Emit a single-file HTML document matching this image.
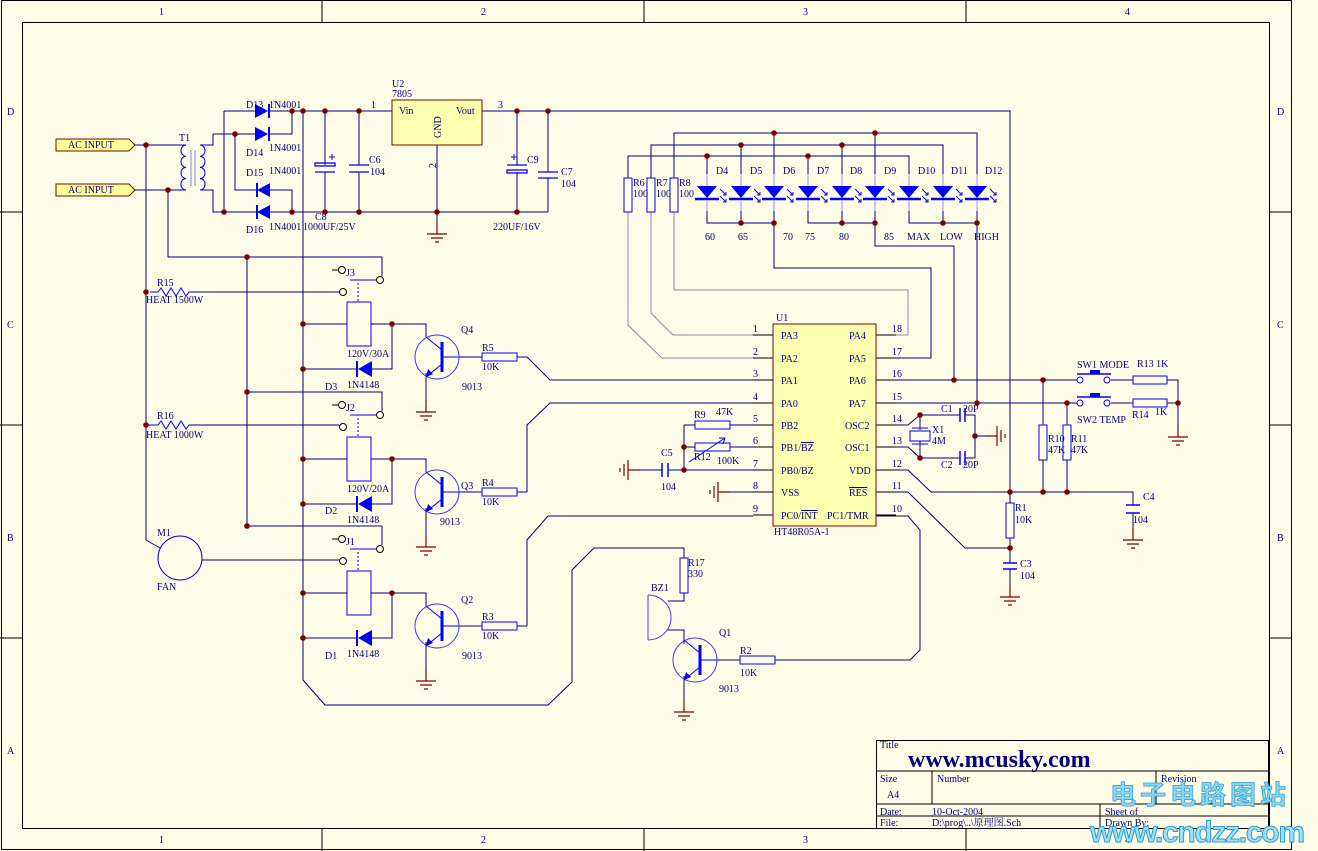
<!DOCTYPE html>
<html><head><meta charset="utf-8"><style>
html,body{margin:0;padding:0;background:#FFFDE8;}
svg{display:block;}
text{font-family:"Liberation Serif","Noto Serif CJK SC",serif;font-size:10px;fill:#000080;}
</style></head><body>
<svg width="1318" height="851" viewBox="0 0 1318 851" xmlns="http://www.w3.org/2000/svg">
<defs>
<g id="gnd" stroke="#800000" stroke-width="1.2" fill="none"><path d="M0,0V12M-10,12H10M-6,16H6M-2,20H2"/></g>
<g id="npn" fill="none"><circle r="22" stroke="#4040ff" stroke-width="1"/><path d="M5,-15V15" stroke="#0000ff" stroke-width="3"/><path d="M5,-7L-11,-20M5,7L-11,20" stroke="#0000ff" stroke-width="1"/><path d="M-11,20L-9,12L-4,17Z" fill="#0000ff"/><path d="M5,0H22" stroke="#0000ff"/></g>
<g id="led"><path d="M-10,0H10L0,12Z" fill="#0000ff"/><path d="M-12,13H12" stroke="#0000ff" stroke-width="2.5"/><path d="M0,-12V0M0,14V25" stroke="#9090ff"/><g stroke="#0000ff" fill="none"><path d="M13,3L19,9M16,9H19V6M13,10L19,16M16,16H19V13"/></g></g>
<g id="relay">
<path d="M247,257H382V276" stroke="#000080" fill="none"/>
<circle cx="342" cy="270" r="3.5" fill="none" stroke="#000"/><path d="M332,270H338" stroke="#000"/>
<path d="M350,280H376" stroke="#0000ff"/><circle cx="380" cy="280" r="3.5" fill="none" stroke="#000"/>
<circle cx="343" cy="292" r="3.5" fill="none" stroke="#000"/>
<path d="M358,283V302" stroke="#0000ff" stroke-dasharray="2,2"/>
<rect x="347" y="302" width="24" height="44" fill="none" stroke="#0000ff"/>
<path d="M303,324H347M371,324H426V337M303,369H356M372,369H392V324M442,357H482M517,357H527M426,373V400" stroke="#000080" fill="none"/>
<path d="M372,361V377L358,369Z" fill="#0000ff"/><path d="M357,361V377" stroke="#0000ff" stroke-width="2"/>
<rect x="482" y="353" width="35" height="8" fill="none" stroke="#0000ff"/>
<use href="#npn" x="437" y="357"/>
<use href="#gnd" x="426" y="400"/>
<circle cx="247" cy="257" r="2.8" fill="#800000"/><circle cx="303" cy="324" r="2.8" fill="#800000"/><circle cx="392" cy="324" r="2.8" fill="#800000"/><circle cx="303" cy="369" r="2.8" fill="#800000"/>
</g>
</defs>
<!-- frame -->
<g stroke="#000" fill="none" stroke-width="1">
<rect x="1.5" y="0.5" width="1290" height="849"/>
<rect x="22.5" y="22.5" width="1247" height="806"/>
<path d="M322,0V22M644,0V22M966,0V22M322,828V851M644,828V851M966,828V851M0,212H22M0,425H22M0,638H22M1269,212H1292M1269,425H1292M1269,638H1292"/>
</g>
<g font-size="10"><text x="159" y="15">1</text><text x="481" y="15">2</text><text x="803" y="15">3</text><text x="1125" y="15">4</text>
<text x="159" y="843">1</text><text x="481" y="843">2</text><text x="803" y="843">3</text><text x="1125" y="843">4</text>
<text x="7" y="115">D</text><text x="7" y="328">C</text><text x="7" y="541">B</text><text x="7" y="754">A</text>
<text x="1277" y="115">D</text><text x="1277" y="328">C</text><text x="1277" y="541">B</text><text x="1277" y="754">A</text></g>

<!-- AC inputs -->
<g fill="#FFFF99" stroke="#800000"><path d="M56,139H129L135,145L129,151H56Z"/><path d="M56,184H129L135,190L129,196H56Z"/></g>
<text x="68" y="148">AC  INPUT</text><text x="68" y="193">AC  INPUT</text>

<g stroke="#000080" fill="none" stroke-width="1">
<path d="M135,145H180M135,190H180M146,145V540L160,548M168,190V257H247"/>
<path d="M190,292H339M202,560H339"/>
<path d="M150,292H158L161,288L166,296L171,288L176,296L181,288L186,296L189,292H190" stroke="#0000ff"/>
<path d="M150,425H158L161,421L166,429L171,421L176,429L181,421L186,429L189,425H190" stroke="#0000ff"/>
<path d="M190,425H339M146,425H150"/>
<path d="M247,257V525"/>
<path d="M207,145H213V134H255M207,190H213V212H257M224,111V212M235,134V190H257M224,111H255M270,111H392M292,111V134H270M270,190H292V212M270,212H548M303,111V680L325,705H548L572,682V570L594,548H684V558"/>
<path d="M437,145V222M517,111V165M517,172V212M548,111V172M548,178V212M325,111V165M325,172V212M359,111V165M359,172V212"/>
<path d="M482,111H1010V492"/>
</g>
<!-- transformer coils -->
<g stroke="#0000ff" fill="none">
<path d="M186,145A5,5.6 0 0 0 186,156.2A5,5.6 0 0 0 186,167.4A5,5.6 0 0 0 186,178.6A5,5.6 0 0 0 186,190"/>
<path d="M200,145A5,5.6 0 0 1 200,156.2A5,5.6 0 0 1 200,167.4A5,5.6 0 0 1 200,178.6A5,5.6 0 0 1 200,190"/>
<path d="M191,150V186M195,150V186" stroke="#8080ff"/>
<path d="M180,145H186M180,190H186M200,145H207M200,190H207"/>
</g>
<text x="179" y="141">T1</text>
<g fill="#0000ff"><path d="M255,104V118L268,111Z"/><path d="M255,127V141L268,134Z"/><path d="M270,183V197L257,190Z"/><path d="M270,205V219L257,212Z"/></g>
<g stroke="#0000ff" stroke-width="2"><path d="M269,104V118M269,127V141M257,183V197M257,205V219"/></g>
<text x="246" y="108">D13</text><text x="269" y="108">1N4001</text><text x="246" y="156">D14</text><text x="269" y="151">1N4001</text>
<text x="246" y="176">D15</text><text x="269" y="174">1N4001</text><text x="246" y="233">D16</text><text x="269" y="230">1N4001</text>
<g stroke="#0000ff" fill="none" stroke-width="1.3">
<rect x="315" y="163" width="20" height="3"/><path d="M315,172H335M349,165H369M349,172H369M507,165H527" /><rect x="507" y="170" width="20" height="3"/><path d="M538,172H558M538,178H558"/>
<path d="M329,157H335M332,154V160M511,157H517M514,154V160" stroke-width="1"/>
</g>
<text x="369" y="163">C6</text><text x="370" y="175">104</text><text x="315" y="220">C8</text><text x="303" y="230">1000UF/25V</text>
<text x="527" y="163">C9</text><text x="493" y="230">220UF/16V</text><text x="561" y="175">C7</text><text x="561" y="187">104</text>
<rect x="392" y="100" width="90" height="45" fill="#FFFFB0" stroke="#800000"/>
<text x="399" y="114">Vin</text><text x="456" y="114">Vout</text>
<text transform="translate(441,138) rotate(-90)">GND</text>
<text x="392" y="87">U2</text><text x="392" y="97">7805</text><text x="371" y="108">1</text><text x="498" y="108">3</text>
<text transform="translate(436,168) rotate(-90)">2</text>
<use href="#gnd" x="437" y="222"/>
<g fill="#800000"><circle cx="146" cy="145" r="2.8"/><circle cx="168" cy="190" r="2.8"/><circle cx="146" cy="292" r="2.8"/><circle cx="146" cy="425" r="2.8"/>
<circle cx="292" cy="111" r="2.8"/><circle cx="303" cy="111" r="2.8"/><circle cx="325" cy="111" r="2.8"/><circle cx="359" cy="111" r="2.8"/><circle cx="235" cy="134" r="2.8"/>
<circle cx="224" cy="212" r="2.8"/><circle cx="292" cy="212" r="2.8"/><circle cx="325" cy="212" r="2.8"/><circle cx="359" cy="212" r="2.8"/><circle cx="437" cy="212" r="2.8"/><circle cx="517" cy="212" r="2.8"/>
<circle cx="517" cy="111" r="2.8"/><circle cx="548" cy="111" r="2.8"/></g>
<text x="157" y="286">R15</text><text x="146" y="303">HEAT  1500W</text><text x="157" y="419">R16</text><text x="146" y="438">HEAT  1000W</text>
<circle cx="180" cy="558" r="22" fill="none" stroke="#0000ff"/>
<text x="157" y="536">M1</text><text x="157" y="590">FAN</text>

<use href="#relay"/>
<use href="#relay" y="135"/>
<use href="#relay" y="269"/>
<text x="346" y="276">J3</text><text x="346" y="411">J2</text><text x="346" y="545">J1</text>
<text x="347" y="357">120V/30A</text><text x="347" y="388">1N4148</text><text x="325" y="390">D3</text>
<text x="347" y="492">120V/20A</text><text x="347" y="523">1N4148</text><text x="325" y="514">D2</text>
<text x="347" y="657">1N4148</text><text x="325" y="659">D1</text>
<text x="461" y="333">Q4</text><text x="462" y="390">9013</text><text x="482" y="351">R5</text><text x="482" y="370">10K</text>
<text x="461" y="489">Q3</text><text x="440" y="525">9013</text><text x="482" y="486">R4</text><text x="482" y="505">10K</text>
<text x="461" y="603">Q2</text><text x="462" y="659">9013</text><text x="482" y="620">R3</text><text x="482" y="639">10K</text>

<g stroke="#000080" fill="none">
<path d="M527,357L550,380H753M527,492V425L550,403H753M527,626V540L548,516H753"/>
<path d="M684,593V601H668M668,630H684V644M684,676V700M717,660H740M775,660H910L920,650V530L908,516H876"/>
</g>
<rect x="680" y="558" width="8" height="35" fill="none" stroke="#0000ff"/>
<path d="M648,595V640M648,595A23,22.5 0 0 1 648,640" fill="none" stroke="#4040ff"/>
<use href="#npn" x="695" y="660"/>
<rect x="740" y="656" width="35" height="8" fill="none" stroke="#0000ff"/>
<use href="#gnd" x="684" y="700"/>
<text x="688" y="566">R17</text><text x="688" y="577">330</text><text x="651" y="591">BZ1</text><text x="719" y="636">Q1</text>
<text x="740" y="654">R2</text><text x="740" y="676">10K</text><text x="719" y="692">9013</text>

<g stroke="#000080" fill="none">
<path d="M674,178V133H977V174M651,178V145H943V174M628,178V156H909V174"/>
<path d="M707,174V156M741,174V145M774,174V133M808,174V156M842,174V145M875,174V133"/>
<path d="M707,199V223H774M808,199V223H875M909,199V223H977M741,199V223M774,199V268H931V358H876M842,199V223M875,199V246H954V380M943,199V223M977,199V403"/>
<path d="M628,212V325L662,358H753M651,212V313L673,335H753" stroke="#8888aa"/>
<path d="M674,212V290H908V335H876" stroke="#8888aa"/>
</g>
<g fill="none" stroke="#0000ff"><rect x="624" y="178" width="8" height="34"/><rect x="647" y="178" width="8" height="34"/><rect x="670" y="178" width="8" height="34"/></g>
<text x="633" y="186">R6</text><text x="633" y="197">100</text><text x="656" y="186">R7</text><text x="656" y="197">100</text><text x="679" y="186">R8</text><text x="679" y="197">100</text>
<use href="#led" x="707" y="186"/><use href="#led" x="741" y="186"/><use href="#led" x="774" y="186"/><use href="#led" x="808" y="186"/><use href="#led" x="842" y="186"/><use href="#led" x="875" y="186"/><use href="#led" x="909" y="186"/><use href="#led" x="943" y="186"/><use href="#led" x="977" y="186"/>
<text x="716" y="174">D4</text><text x="750" y="174">D5</text><text x="783" y="174">D6</text><text x="817" y="174">D7</text><text x="850" y="174">D8</text><text x="884" y="174">D9</text><text x="918" y="174">D10</text><text x="951" y="174">D11</text><text x="985" y="174">D12</text>
<text x="705" y="240">60</text><text x="738" y="240">65</text><text x="783" y="240">70</text><text x="805" y="240">75</text><text x="839" y="240">80</text><text x="884" y="240">85</text><text x="907" y="240">MAX</text><text x="940" y="240">LOW</text><text x="974" y="240">HIGH</text>
<g fill="#800000"><circle cx="774" cy="133" r="2.8"/><circle cx="875" cy="133" r="2.8"/><circle cx="741" cy="145" r="2.8"/><circle cx="842" cy="145" r="2.8"/><circle cx="707" cy="156" r="2.8"/><circle cx="808" cy="156" r="2.8"/>
<circle cx="741" cy="223" r="2.8"/><circle cx="774" cy="223" r="2.8"/><circle cx="842" cy="223" r="2.8"/><circle cx="875" cy="223" r="2.8"/><circle cx="943" cy="223" r="2.8"/><circle cx="977" cy="223" r="2.8"/></g>

<g stroke="#000" fill="none"><path d="M753,335H773M753,358H773M753,380H773M753,403H773M753,425H773M753,447H773M753,470H773M753,492H773M753,515H773M876,335H896M876,358H896M876,380H896M876,403H896M876,425H896M876,447H896M876,470H896M876,492H896M876,515H896"/></g>
<rect x="773" y="324" width="103" height="202" fill="#FFFFB0" stroke="#800000"/>
<text x="776" y="321">U1</text><text x="774" y="535">HT48R05A-1</text>
<g><text x="753" y="332">1</text><text x="753" y="355">2</text><text x="753" y="377">3</text><text x="753" y="400">4</text><text x="753" y="422">5</text><text x="753" y="444">6</text><text x="753" y="467">7</text><text x="753" y="489">8</text><text x="753" y="512">9</text>
<text x="892" y="332">18</text><text x="892" y="355">17</text><text x="892" y="377">16</text><text x="892" y="400">15</text><text x="892" y="422">14</text><text x="892" y="444">13</text><text x="892" y="467">12</text><text x="892" y="489">11</text><text x="892" y="512">10</text></g>
<g><text x="781" y="339">PA3</text><text x="781" y="362">PA2</text><text x="781" y="384">PA1</text><text x="781" y="407">PA0</text><text x="781" y="429">PB2</text><text x="781" y="451">PB1/<tspan text-decoration="overline">BZ</tspan></text><text x="781" y="474">PB0/BZ</text><text x="781" y="496">VSS</text><text x="781" y="519">PC0/<tspan text-decoration="overline">INT</tspan></text>
<text x="849" y="339">PA4</text><text x="849" y="362">PA5</text><text x="849" y="384">PA6</text><text x="849" y="407">PA7</text><text x="845" y="429">OSC2</text><text x="845" y="451">OSC1</text><text x="849" y="474">VDD</text><text x="849" y="496" text-decoration="overline">RES</text><text x="827" y="519">PC1/TMR</text></g>

<g stroke="#000080" fill="none">
<path d="M730,425H753M730,447H753M684,425H695M684,447H695M684,425V470M668,470H753M640,470H662M730,492H753"/>
<path d="M896,425H908L920,415H960M965,415H975V458H965M896,447H908L920,458H960M920,415V430M920,441V458M975,436H985"/>
<path d="M896,470H908L931,492H1133V505M1133,513V540M896,492H908L965,548H1010V563M1010,569V596M1010,492V503M1010,538V548"/>
<path d="M896,380H1077M1111,380H1133M1167,380H1178V437M896,403H1077M1111,403H1133M1167,403H1178"/>
<path d="M1043,380V425M1043,460V492M1067,403V425M1067,460V492"/>
</g>
<g stroke="#0000ff" fill="none">
<rect x="695" y="421" width="35" height="8"/><rect x="695" y="443" width="35" height="8"/><path d="M689,462L725,438M725,438L719,438M725,438L723,444"/>
<path d="M662,463V477M668,463V477" stroke-width="1.5"/>
<path d="M960,408V422M965,408V422M960,451V465M965,451V465" stroke-width="1.5"/>
<rect x="910" y="431" width="20" height="10"/><path d="M912,428H928M912,444H928"/>
<path d="M1126,505H1140M1126,513H1140M1003,563H1017M1003,569H1017" stroke-width="1.5"/>
<rect x="1006" y="503" width="8" height="35"/><rect x="1039" y="425" width="8" height="35"/><rect x="1063" y="425" width="8" height="35"/>
<rect x="1133" y="376" width="34" height="8"/><rect x="1133" y="399" width="34" height="8"/>
<circle cx="1080" cy="380" r="3"/><circle cx="1107" cy="380" r="3"/><circle cx="1080" cy="403" r="3"/><circle cx="1107" cy="403" r="3"/>
<path d="M1077,374H1111M1077,397H1111" stroke-width="1.5"/>
</g>
<g fill="#0000ff"><rect x="1090" y="370" width="10" height="4"/><rect x="1090" y="393" width="10" height="4"/></g>
<use href="#gnd" transform="translate(640,470) rotate(90)"/>
<use href="#gnd" transform="translate(730,492) rotate(90)"/>
<use href="#gnd" transform="translate(985,436) rotate(-90)"/>
<use href="#gnd" x="1133" y="528"/><use href="#gnd" x="1010" y="585"/><use href="#gnd" x="1178" y="425"/>
<g fill="#800000"><circle cx="684" cy="447" r="2.8"/><circle cx="684" cy="470" r="2.8"/><circle cx="920" cy="415" r="2.8"/><circle cx="920" cy="458" r="2.8"/><circle cx="975" cy="436" r="2.8"/>
<circle cx="954" cy="380" r="2.8"/><circle cx="977" cy="403" r="2.8"/><circle cx="1043" cy="380" r="2.8"/><circle cx="1067" cy="403" r="2.8"/><circle cx="1178" cy="403" r="2.8"/>
<circle cx="1010" cy="492" r="2.8"/><circle cx="1043" cy="492" r="2.8"/><circle cx="1067" cy="492" r="2.8"/><circle cx="1010" cy="548" r="2.8"/></g>
<text x="694" y="418">R9</text><text x="716" y="415">47K</text><text x="694" y="460">R12</text><text x="717" y="464">100K</text><text x="661" y="456">C5</text><text x="661" y="490">104</text>
<text x="941" y="412">C1</text><text x="963" y="412">20P</text><text x="932" y="433">X1</text><text x="932" y="444">4M</text><text x="941" y="468">C2</text><text x="963" y="468">20P</text>
<text x="1077" y="368">SW1 MODE</text><text x="1137" y="367">R13  1K</text><text x="1077" y="423">SW2 TEMP</text><text x="1132" y="418">R14</text><text x="1155" y="415">1K</text>
<text x="1048" y="442">R10</text><text x="1048" y="453">47K</text><text x="1071" y="442">R11</text><text x="1071" y="453">47K</text>
<text x="1015" y="511">R1</text><text x="1015" y="523">10K</text><text x="1020" y="567">C3</text><text x="1020" y="579">104</text><text x="1143" y="500">C4</text><text x="1133" y="523">104</text>

<g stroke="#000" fill="none"><rect x="876.5" y="740.5" width="392" height="88"/><path d="M876,771H1269M876,804H1269M876,816H1269M932,771V804M1156,771V804M1100,804V828"/></g>
<text x="880" y="748" font-size="9" fill="#000">Title</text>
<text x="908" y="767" style="font-size:24px;font-weight:bold;fill:#000080">www.mcusky.com</text>
<text x="880" y="782" font-size="9" fill="#000">Size</text><text x="887" y="798">A4</text><text x="937" y="782" font-size="9" fill="#000">Number</text><text x="1161" y="782" font-size="9">Revision</text>
<text x="880" y="815" font-size="9">Date:</text><text x="932" y="815" font-size="9">10-Oct-2004</text><text x="1105" y="815" font-size="9">Sheet    of</text>
<text x="880" y="826" font-size="9">File:</text><text x="932" y="826" font-size="9">D:\prog\..\原理图.Sch</text><text x="1105" y="826" font-size="9">Drawn By:</text>
<text x="1110" y="804" textLength="176" style="font-family:'Noto Sans CJK SC',sans-serif;font-size:26px;font-weight:bold;fill:#88d8f0;stroke:#40a0d0;stroke-width:0.8">电子电路图站</text>
<text x="1090" y="842" textLength="215" style="font-family:'Liberation Sans',sans-serif;font-size:30px;font-weight:bold;fill:#98e2f6;stroke:#3a98c8;stroke-width:1">www.cndzz.com</text>
</svg>
</body></html>
